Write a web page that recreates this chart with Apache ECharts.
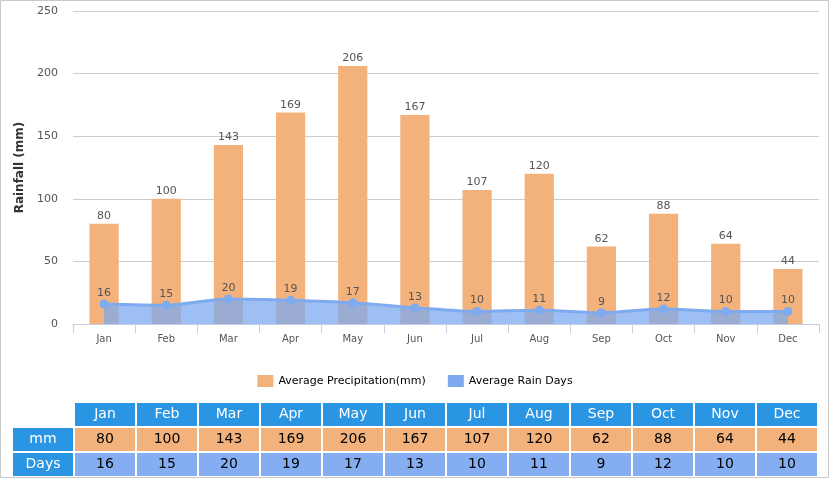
<!DOCTYPE html>
<html>
<head>
<meta charset="utf-8">
<script src="https://cdn.jsdelivr.net/npm/echarts@6/dist/echarts.min.js"></script>
<style>
html,body{margin:0;padding:0;background:#fff;}
#main{width:830px;height:479px;}
</style>
</head>
<body>
<div id="main"></div>
<script>
const months = ['Jan','Feb','Mar','Apr','May','Jun','Jul','Aug','Sep','Oct','Nov','Dec'];
const precipitation = [80,100,143,169,206,167,107,120,62,88,64,44];
const rainDays = [16,15,20,19,17,13,10,11,9,12,10,10];
const yTicks = {min:0, max:250, interval:50};
const tableRows = ['header','mm','Days'];
const rowLabels = ['', 'mm', 'Days'];

const ORANGE = '#f3b27b';
const BLUE = '#7eaaf0';
const HEADER = '#2a95e3';
const DAYS_BG = '#84aef1';
const FONT = 'DejaVu Sans, Verdana, sans-serif';

// table cells built from arrays
const tableCols = [''].concat(months);
const cells = [];
months.forEach((m, i) => {
  cells.push({col: i + 1, row: 0, text: m, bg: HEADER, color: '#fff'});
  cells.push({col: i + 1, row: 1, text: String(precipitation[i]), bg: ORANGE, color: '#000'});
  cells.push({col: i + 1, row: 2, text: String(rainDays[i]), bg: DAYS_BG, color: '#000'});
});
cells.push({col: 0, row: 1, text: rowLabels[1], bg: HEADER, color: '#fff'});
cells.push({col: 0, row: 2, text: rowLabels[2], bg: HEADER, color: '#fff'});

const chart = echarts.init(document.getElementById('main'), null, {renderer: 'canvas'});
chart.setOption({
  animation: false,
  textStyle: {fontFamily: FONT},
  graphic: [{
    type: 'rect', silent: true, z: 100,
    shape: {x: 0.5, y: 0.5, width: 828, height: 477},
    style: {fill: 'none', stroke: '#c8c8c8', lineWidth: 1}
  }],
  legend: {
    top: 370, left: 'center',
    itemWidth: 16, itemHeight: 12, itemGap: 22,
    textStyle: {fontSize: 11, color: '#000', fontFamily: FONT},
    data: [
      {name: 'Average Precipitation(mm)', icon: 'rect'},
      {name: 'Average Rain Days', icon: 'rect'}
    ]
  },
  grid: [
    {left: 73, right: 11, top: 11, bottom: 155},
    {left: 13, right: 11, top: 403, height: 75}
  ],
  xAxis: [{
    gridIndex: 0,
    type: 'category',
    data: months,
    boundaryGap: true,
    axisLine: {lineStyle: {color: '#c2cfe0'}},
    axisTick: {show: true, length: 9, lineStyle: {color: '#c2cfe0'}},
    axisLabel: {fontSize: 10, color: '#555', margin: 10}
  }, {
    gridIndex: 1, type: 'category', data: tableCols, show: false
  }],
  yAxis: [{
    gridIndex: 0,
    type: 'value',
    min: yTicks.min, max: yTicks.max, interval: yTicks.interval,
    name: 'Rainfall (mm)',
    nameLocation: 'middle',
    nameRotate: 90,
    nameGap: 42,
    nameTextStyle: {fontSize: 12, color: '#333', fontWeight: 'bold', fontFamily: FONT},
    axisLine: {show: false},
    axisTick: {show: false},
    axisLabel: {fontSize: 11, color: '#555', margin: 15},
    splitLine: {lineStyle: {color: '#cccccc'}}
  }, {
    gridIndex: 1, type: 'category', data: tableRows, inverse: true, show: false
  }],
  series: [{
    name: 'Average Precipitation(mm)',
    type: 'bar',
    xAxisIndex: 0, yAxisIndex: 0,
    data: precipitation,
    barWidth: '47%',
    itemStyle: {color: ORANGE},
    label: {show: true, position: 'top', distance: 2, color: '#555', fontSize: 11}
  }, {
    name: 'Average Rain Days',
    type: 'line',
    xAxisIndex: 0, yAxisIndex: 0,
    data: rainDays,
    smooth: 0.3,
    symbol: 'circle',
    symbolSize: 9,
    itemStyle: {color: BLUE},
    lineStyle: {color: BLUE, width: 3},
    areaStyle: {color: BLUE, opacity: 0.75},
    label: {show: true, position: 'top', distance: 1, color: '#555', fontSize: 11},
    z: 3
  }, {
    type: 'custom',
    xAxisIndex: 1, yAxisIndex: 1,
    silent: true,
    data: cells.map(c => [c.col, c.row]),
    renderItem: function (params, api) {
      const cell = cells[params.dataIndex];
      const c = api.coord([api.value(0), api.value(1)]);
      const s = api.size([1, 1]);
      return {
        type: 'group',
        children: [{
          type: 'rect',
          shape: {x: c[0] - s[0] / 2, y: c[1] - s[1] / 2, width: s[0] - 2, height: s[1] - 2},
          style: {fill: cell.bg}
        }, {
          type: 'text',
          style: {
            text: cell.text, x: c[0] - 1, y: c[1] - 1,
            align: 'center', verticalAlign: 'middle',
            fill: cell.color, font: '14px ' + FONT
          }
        }]
      };
    }
  }]
});
</script>
</body>
</html>
